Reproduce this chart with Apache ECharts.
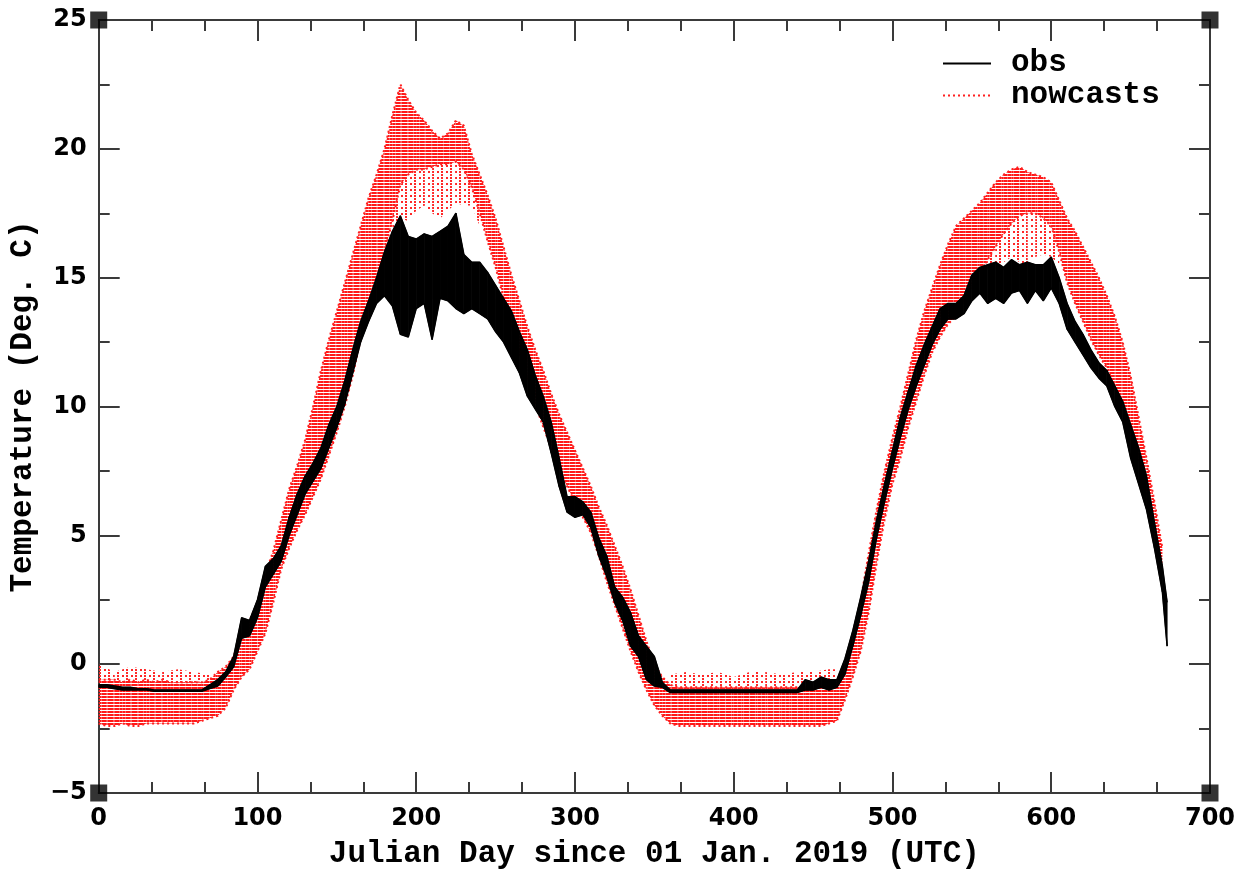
<!DOCTYPE html>
<html>
<head>
<meta charset="utf-8">
<script src="https://cdn.jsdelivr.net/npm/echarts@6/dist/echarts.min.js"></script>
<style>html,body{margin:0;padding:0;background:#fff}#c{width:1250px;height:875px}</style>
</head>
<body>
<div id="c"></div>
<script>
// ---- data ----
const xTicks = [0, 100, 200, 300, 400, 500, 600, 700];
const yTicks = [-5, 0, 5, 10, 15, 20, 25];

// nowcasts: dense envelope (lower / upper) of the hourly traces
const nowDays = [0,5,10,15,20,25,30,35,40,45,50,55,60,65,70,75,80,85,90,95,100,105,110,115,120,125,130,135,140,145,150,155,160,165,170,175,180,185,190,195,200,205,210,215,220,225,230,235,240,245,250,255,260,265,270,275,280,285,290,295,300,305,310,315,320,325,330,335,340,345,350,355,360,365,370,375,380,385,390,395,400,405,410,415,420,425,430,435,440,445,450,455,460,465,470,475,480,485,490,495,500,505,510,515,520,525,530,535,540,545,550,555,560,565,570,575,580,585,590,595,600,605,610,615,620,625,630,635,640,645,650,655,660,665,670];
const nowHi = [-0.6,-0.6,-0.6,-0.7,-0.6,-0.7,-0.6,-0.7,-0.6,-0.7,-0.7,-0.7,-0.7,-0.7,-0.6,-0.3,-0.1,0.3,1.2,1.7,2.4,3.5,4.4,5.6,6.8,7.7,8.7,10.0,11.4,12.6,13.7,14.8,15.9,17.0,18.1,19.0,20.0,21.3,22.5,21.9,21.4,21.1,20.7,20.4,20.6,21.1,20.9,19.8,19.0,18.2,17.3,16.2,15.1,14.1,13.1,12.2,11.4,10.5,9.7,9.0,8.3,7.6,6.9,6.1,5.4,4.6,3.8,2.9,1.9,0.9,0.0,-0.5,-0.8,-0.9,-0.9,-0.9,-0.9,-0.9,-0.9,-0.9,-0.9,-0.9,-0.9,-0.9,-0.9,-0.9,-0.9,-0.9,-0.9,-0.9,-0.9,-0.9,-0.8,-0.7,0.0,1.1,2.5,4.3,6.0,7.5,8.8,10.0,11.3,12.6,13.7,14.6,15.5,16.3,17.0,17.3,17.6,17.9,18.3,18.7,19.0,19.2,19.3,19.1,19.0,18.9,18.7,18.0,17.3,16.8,16.2,15.6,15.0,14.3,13.5,12.5,11.2,9.6,8.0,6.3,4.5];
const nowLo = [-2.3,-2.4,-2.4,-2.3,-2.4,-2.4,-2.3,-2.3,-2.3,-2.3,-2.3,-2.3,-2.3,-2.2,-2.1,-2.0,-1.7,-1.0,-0.5,-0.2,0.5,1.2,2.4,3.7,4.5,5.2,5.8,6.5,7.2,8.1,9.0,10.0,11.2,12.6,13.9,15.0,16.0,17.2,18.6,19.0,19.2,19.2,19.3,19.4,19.4,19.5,19.2,18.5,17.5,16.4,15.4,14.2,13.1,12.1,11.1,10.1,9.2,8.4,7.6,6.9,6.3,5.7,5.1,4.2,3.2,2.3,1.4,0.5,-0.3,-1.0,-1.6,-2.0,-2.3,-2.4,-2.4,-2.4,-2.4,-2.4,-2.4,-2.4,-2.4,-2.4,-2.4,-2.4,-2.4,-2.4,-2.4,-2.4,-2.4,-2.4,-2.4,-2.4,-2.3,-2.2,-1.4,-0.5,0.5,2.0,3.9,5.6,7.0,8.0,9.2,10.2,11.2,12.1,12.7,13.2,13.5,14.0,14.7,15.2,15.7,16.2,16.7,17.1,17.4,17.5,17.5,17.3,17.0,16.0,14.8,14.0,13.3,12.6,12.0,11.5,10.8,10.0,9.0,8.0,6.5,5.0,3.5];

// nowcasts: sparse outlier zones (scattered dots)
const sparseWinter1Days = [0,10,20,30,40,50,60,70];
const sparseWinter1Lo   = [-0.7,-0.7,-0.7,-0.7,-0.7,-0.7,-0.7,-0.6];
const sparseWinter1Hi   = [0.0,-0.3,-0.1,-0.2,-0.3,-0.2,-0.3,-0.4];
const sparsePeak1Days = [185,190,195,200,205,210,215,220,225,230,235,240];
const sparsePeak1Lo   = [16.8,17.3,17.2,17.6,17.8,17.5,17.3,17.6,17.9,17.8,17.8,17.0];
const sparsePeak1Hi   = [17.2,18.6,19.0,19.2,19.2,19.3,19.4,19.4,19.5,19.2,18.5,17.5];
const sparseWinter2Days = [360,370,380,390,400,410,420,430,440,450,460,465];
const sparseWinter2Lo   = [-0.9,-0.9,-0.9,-0.9,-0.9,-0.9,-0.9,-0.9,-0.9,-0.9,-0.8,-0.7];
const sparseWinter2Hi   = [-0.4,-0.3,-0.4,-0.3,-0.5,-0.3,-0.3,-0.4,-0.3,-0.3,-0.2,-0.2];
const sparsePeak2Days = [550,555,560,565,570,575,580,585,590,595,600,605];
const sparsePeak2Lo   = [14.5,15.0,15.3,15.4,15.6,15.8,15.6,15.5,15.8,15.9,15.8,15.5];
const sparsePeak2Hi   = [14.7,15.2,15.7,16.2,16.7,17.1,17.4,17.5,17.5,17.3,17.0,16.0];

// observations: envelope (lower / upper) of the hourly record
const obsDays = [0,5,10,15,20,25,30,35,40,45,50,55,60,65,70,75,80,85,90,95,100,105,110,115,120,125,130,135,140,145,150,155,160,165,170,175,180,185,190,195,200,205,210,215,220,225,230,235,240,245,250,255,260,265,270,275,280,285,290,295,300,305,310,315,320,325,330,335,340,345,350,355,360,365,370,375,380,385,390,395,400,405,410,415,420,425,430,435,440,445,450,455,460,465,470,475,480,485,490,495,500,505,510,515,520,525,530,535,540,545,550,555,560,565,570,575,580,585,590,595,600,605,610,615,620,625,630,635,640,645,650,655,660,665,670,673];
const obsHi = [-0.8,-0.8,-0.85,-0.9,-0.9,-0.95,-0.95,-1.0,-1.0,-1.0,-1.0,-1.0,-1.0,-1.0,-0.8,-0.6,-0.3,0.3,1.8,1.7,2.5,3.8,4.1,4.6,5.7,6.6,7.3,7.8,8.4,9.3,10.0,11.0,12.2,13.3,14.1,15.0,16.0,16.8,17.4,16.6,16.5,16.7,16.6,16.8,17.0,17.5,15.9,15.6,15.6,15.2,14.7,14.2,13.7,12.9,12.2,11.2,10.4,9.4,8.0,6.5,6.5,6.3,5.9,4.9,4.2,3.0,2.6,2.0,1.1,0.7,0.3,-0.7,-1.0,-1.0,-1.0,-1.0,-1.0,-1.0,-1.0,-1.0,-1.0,-1.0,-1.0,-1.0,-1.0,-1.0,-1.0,-1.0,-1.0,-0.6,-0.7,-0.5,-0.6,-0.6,0.2,1.3,2.6,4.0,5.6,7.0,8.3,9.6,10.6,11.6,12.4,13.1,13.8,14.0,14.0,14.3,15.1,15.4,15.5,15.6,15.4,15.7,15.5,15.6,15.5,15.5,15.8,15.0,14.0,13.3,12.8,12.2,11.7,11.4,10.8,10.2,9.3,8.4,7.3,5.5,3.8,2.4];
const obsLo = [-0.9,-0.9,-0.95,-1.0,-1.0,-1.0,-1.0,-1.05,-1.05,-1.05,-1.05,-1.05,-1.05,-1.05,-0.95,-0.85,-0.5,-0.1,1.0,1.1,1.8,3.0,3.5,4.0,5.0,5.8,6.6,7.1,7.6,8.4,9.2,10.1,11.3,12.5,13.3,14.0,14.3,13.9,12.8,12.7,13.8,14.0,12.6,14.2,14.1,13.8,13.6,13.8,13.6,13.4,12.9,12.5,11.9,11.3,10.4,9.9,9.4,8.2,6.9,5.9,5.7,5.8,5.3,4.2,3.4,2.4,1.7,0.7,0.3,-0.6,-0.85,-0.9,-1.1,-1.1,-1.1,-1.1,-1.1,-1.1,-1.1,-1.1,-1.1,-1.1,-1.1,-1.1,-1.1,-1.1,-1.1,-1.1,-1.1,-1.0,-1.0,-0.9,-1.0,-0.9,-0.4,0.7,1.9,3.2,4.9,6.3,7.6,8.8,9.9,10.8,11.6,12.4,13.0,13.4,13.4,13.6,14.1,14.4,14.0,14.2,14.0,14.4,14.5,14.0,14.5,14.1,14.6,14.0,13.0,12.5,12.0,11.5,11.1,10.8,10.0,9.4,8.0,7.0,6.0,4.5,2.8,0.7];

// ---- drawing ----
const chart = echarts.init(document.getElementById('c'), null, {renderer: 'canvas'});

// striped red pattern imitating dense dotted nowcast traces
const pc = document.createElement('canvas');
pc.width = 6; pc.height = 3;
const pctx = pc.getContext('2d');
pctx.fillStyle = 'rgb(255,25,25)';
pctx.fillRect(0, 0, 6, 2);
pctx.fillStyle = 'rgba(255,140,140,0.6)';
pctx.fillRect(5, 0, 1, 2);
const redPattern = {image: pc, repeat: 'repeat'};

// sparse dotted pattern for scattered outliers
const sc = document.createElement('canvas');
sc.width = 9; sc.height = 6;
const sctx = sc.getContext('2d');
sctx.fillStyle = 'rgb(255,40,40)';
sctx.fillRect(0, 0, 2, 2);
sctx.fillRect(0, 3, 2, 2);
sctx.fillRect(5, 3, 2, 2);
const sparsePattern = {image: sc, repeat: 'repeat'};

function segs(days, lo, hi) {
  const out = [];
  for (let i = 0; i < days.length - 1; i++) {
    out.push([days[i], lo[i], hi[i], days[i + 1], lo[i + 1], hi[i + 1]]);
  }
  return out;
}
function bandRenderer(fill, stroke) {
  return function (params, api) {
    const p = [
      api.coord([api.value(0), api.value(1)]),
      api.coord([api.value(3), api.value(4)]),
      api.coord([api.value(3), api.value(5)]),
      api.coord([api.value(0), api.value(2)])
    ];
    return {type: 'polygon', shape: {points: p}, style: stroke ? {fill: fill, stroke: stroke, lineWidth: 0.8} : {fill: fill}};
  };
}
function bandSeries(name, data, fill, stroke, z) {
  return {name: name, type: 'custom', renderItem: bandRenderer(fill, stroke), data: data,
          encode: {x: [0, 3], y: [1, 2, 4, 5]}, silent: true, z: z};
}

const monoFont = '"Liberation Mono", "Courier New", monospace';
const axisCol = '#3a3a3a';
const tickCfg = {show: true, inside: true, length: 21, lineStyle: {color: axisCol, width: 2}};
const lineCfg = {show: true, onZero: false, lineStyle: {color: axisCol, width: 2}};
const minorX = {show: true, splitNumber: 3, length: 11, lineStyle: {color: axisCol, width: 2}};
const minorY = {show: true, splitNumber: 2, length: 11, lineStyle: {color: axisCol, width: 2}};

const corners = [[xTicks[0], yTicks[yTicks.length - 1]], [xTicks[xTicks.length - 1], yTicks[yTicks.length - 1]], [xTicks[0], yTicks[0]], [xTicks[xTicks.length - 1], yTicks[0]]];

const option = {
  animation: false,
  backgroundColor: '#ffffff',
  grid: {left: 98, right: 40, top: 20, bottom: 77, containLabel: false},
  legend: {
    orient: 'vertical', left: 942, top: 48, padding: 0,
    itemWidth: 48, itemHeight: 14, itemGap: 1,
    data: ['obs', 'nowcasts'],
    itemStyle: {opacity: 0},
    textStyle: {fontFamily: monoFont, fontWeight: 'bold', fontSize: 31, color: '#000', padding: [0, 0, 0, 15]}
  },
  xAxis: [
    {type: 'value', position: 'bottom', min: xTicks[0], max: xTicks[xTicks.length - 1], interval: 100,
     name: 'Julian Day since 01 Jan. 2019 (UTC)', nameLocation: 'middle', nameGap: 46,
     nameTextStyle: {fontFamily: monoFont, fontWeight: 'bold', fontSize: 31, color: '#000'},
     axisLine: lineCfg, axisTick: tickCfg, minorTick: minorX,
     axisLabel: {margin: 14, fontFamily: '"DejaVu Sans"', fontWeight: 'bold', fontSize: 24, color: '#000'},
     splitLine: {show: false}},
    {type: 'value', position: 'top', min: xTicks[0], max: xTicks[xTicks.length - 1], interval: 100,
     axisLine: lineCfg, axisTick: tickCfg, minorTick: minorX,
     axisLabel: {show: false}, splitLine: {show: false}}
  ],
  yAxis: [
    {type: 'value', position: 'left', min: yTicks[0], max: yTicks[yTicks.length - 1], interval: 5,
     name: 'Temperature (Deg. C)', nameLocation: 'middle', nameGap: 55,
     nameTextStyle: {fontFamily: monoFont, fontWeight: 'bold', fontSize: 31, color: '#000'},
     axisLine: lineCfg, axisTick: tickCfg, minorTick: minorY,
     axisLabel: {margin: 12, fontFamily: '"DejaVu Sans"', fontWeight: 'bold', fontSize: 24, color: '#000',
       formatter: v => (v < 0 ? '\u2212' + Math.abs(v) : String(v))},
     splitLine: {show: false}},
    {type: 'value', position: 'right', min: yTicks[0], max: yTicks[yTicks.length - 1], interval: 5,
     axisLine: lineCfg, axisTick: tickCfg, minorTick: minorY,
     axisLabel: {show: false}, splitLine: {show: false}}
  ],
  series: [
    bandSeries('sparseW1', segs(sparseWinter1Days, sparseWinter1Lo, sparseWinter1Hi), sparsePattern, null, 1),
    bandSeries('sparseP1', segs(sparsePeak1Days, sparsePeak1Lo, sparsePeak1Hi), sparsePattern, null, 1),
    bandSeries('sparseW2', segs(sparseWinter2Days, sparseWinter2Lo, sparseWinter2Hi), sparsePattern, null, 1),
    bandSeries('sparseP2', segs(sparsePeak2Days, sparsePeak2Lo, sparsePeak2Hi), sparsePattern, null, 1),
    bandSeries('nowcastBand', segs(nowDays, nowLo, nowHi), redPattern, null, 2),
    {name: 'nowcasts', type: 'line', symbol: 'none', silent: true, z: 3,
     data: nowDays.map((d, i) => [d, nowHi[i]]),
     lineStyle: {color: '#ff2020', width: 2, type: [2, 3]}, itemStyle: {color: '#ff2020'}},
    {name: 'nowLoEdge', type: 'line', symbol: 'none', silent: true, z: 3,
     data: nowDays.map((d, i) => [d, nowLo[i]]),
     lineStyle: {color: '#ff2020', width: 2, type: [2, 3]}},
    bandSeries('obsBand', segs(obsDays, obsLo, obsHi), '#000', '#000', 4),
    {name: 'obs', type: 'line', symbol: 'none', silent: true, z: 5,
     data: obsDays.map((d, i) => [d, obsHi[i]]),
     lineStyle: {color: '#000', width: 1.5}, itemStyle: {color: '#000'}},
    {name: 'obsLoEdge', type: 'line', symbol: 'none', silent: true, z: 5,
     data: obsDays.map((d, i) => [d, obsLo[i]]),
     lineStyle: {color: '#000', width: 1.5}},
    {name: 'corners', type: 'scatter', symbol: 'rect', symbolSize: 17, clip: false, silent: true, z: 10,
     data: corners, itemStyle: {color: '#000'}}
  ]
};
chart.setOption(option);
</script>
</body>
</html>
